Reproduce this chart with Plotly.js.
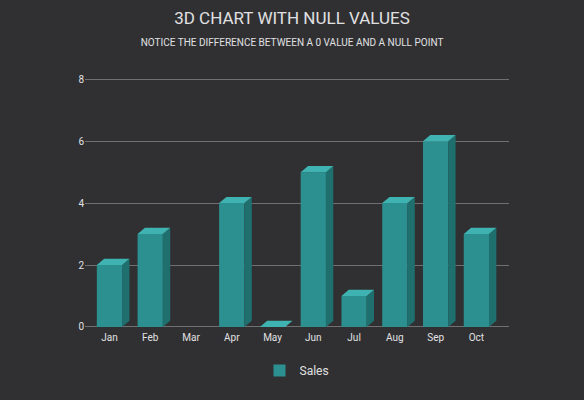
<!DOCTYPE html>
<html><head><meta charset="utf-8">
<script src="https://cdn.plot.ly/plotly-3.0.1.min.js"></script>
<style>body{margin:0;background:#2a2a2b}</style>
</head><body>
<div id="chart" style="width:584px;height:400px;"></div>
<script>
var months = ["Jan", "Feb", "Mar", "Apr", "May", "Jun", "Jul", "Aug", "Sep", "Oct"];
var sales = [2, 3, null, 4, 0, 5, 1, 4, 6, 3];

var xs = months.map(function (m, i) { return i; });
var w = 0.62, dx = 0.18, dy = 0.2;
var shapes = [];
// pseudo-3D side and top faces built from the data
for (var i = 0; i < sales.length; i++) {
  var v = sales[i];
  if (v === null) continue;
  var l = xs[i] - w / 2, r = xs[i] + w / 2;
  shapes.push({
    type: "path", xref: "x", yref: "y", layer: "above",
    path: "M" + r + "," + 0 + " L" + (r + dx) + "," + dy + " L" + (r + dx) + "," + (v + dy) + " L" + r + "," + v + " Z",
    fillcolor: "#1f6f6e", line: { width: 0 }
  });
  shapes.push({
    type: "path", xref: "x", yref: "y", layer: "above",
    path: "M" + l + "," + v + " L" + r + "," + v + " L" + (r + dx) + "," + (v + dy) + " L" + (l + dx) + "," + (v + dy) + " Z",
    fillcolor: "#3fb3b1", line: { width: 0 }
  });
}

Plotly.newPlot("chart", [{
  x: xs,
  y: sales,
  type: "bar",
  name: "Sales",
  width: w,
  marker: { color: "#2b908f" },
  hoverinfo: "x+y"
}], {
  width: 584, height: 400,
  paper_bgcolor: "#303032",
  plot_bgcolor: "rgba(0,0,0,0)",
  font: { family: "Roboto, sans-serif", color: "#E0E0E3" },
  title: { text: "3D CHART WITH NULL VALUES<br><span style='font-size:10px'>NOTICE THE DIFFERENCE BETWEEN A 0 VALUE AND A NULL POINT</span>",
    font: { size: 17, color: "#E0E0E3" }, x: 0.5, y: 0.94 },
  margin: { l: 85, r: 75, t: 70, b: 70 },
  xaxis: {
    tickvals: xs, ticktext: months, range: [-0.6, 9.8],
    showgrid: false, zeroline: false, showline: false,
    tickfont: { size: 10, color: "#E0E0E3" }
  },
  yaxis: {
    range: [-0.1, 8.3], dtick: 2, gridcolor: "#707073", zeroline: false,
    tickfont: { size: 10, color: "#E0E0E3" }
  },
  showlegend: true,
  legend: { orientation: "h", x: 0.5, xanchor: "center", y: -0.1, font: { size: 12 } },
  shapes: shapes
}, { displayModeBar: false });
</script>
</body></html>
